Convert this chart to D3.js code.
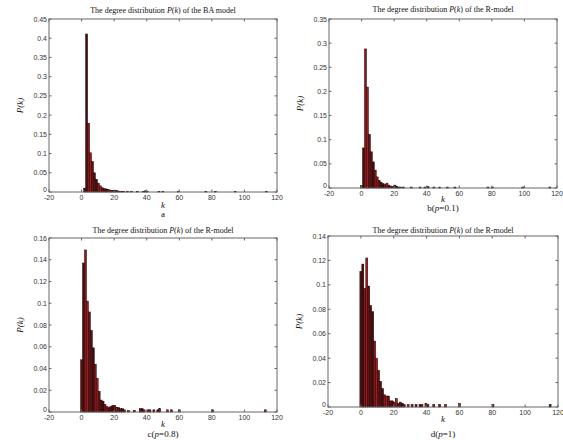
<!DOCTYPE html>
<html>
<head>
<meta charset="utf-8">
<script src="https://cdn.jsdelivr.net/npm/d3@7"></script>
<style>
  body { margin: 0; background: #fff; }
  .tick-label { font-family: "Liberation Sans", Arial, sans-serif; font-size: 7px; fill: #333; }
  .title { font-family: "Liberation Serif", "Times New Roman", serif; font-size: 8px; fill: #111; }
  .axis-title { font-family: "Liberation Serif", "Times New Roman", serif; font-size: 9px; fill: #111; font-style: italic; }
  .caption { font-family: "Liberation Serif", "Times New Roman", serif; font-size: 9px; fill: #111; }
</style>
</head>
<body>
<div id="chart"></div>
<script>
// ---- data ----
const binWidth = 1.2;
const xTicks = [-20, 0, 20, 40, 60, 80, 100, 120];

// a: BA model
const kA = [1.9, 3.1, 4.3, 5.5, 6.7, 7.9, 9.1, 10.3, 11.5, 12.7, 13.9, 15.1, 16.3, 17.5, 18.7, 19.9, 21.1, 22.3, 23.5, 24.7, 25.9, 28.3, 30.7, 34.3, 37.9, 39.1, 40.3, 47.5, 49.9, 59.5, 76.3, 82.3, 94.3, 113.5];
const pA = [0.010, 0.411, 0.179, 0.102, 0.079, 0.050, 0.033, 0.023, 0.016, 0.011, 0.009, 0.008, 0.007, 0.005, 0.004, 0.004, 0.004, 0.003, 0.002, 0.002, 0.002, 0.002, 0.002, 0.002, 0.002, 0.003, 0.002, 0.002, 0.002, 0.002, 0.002, 0.002, 0.002, 0.002];
const yTicksA = [0, 0.05, 0.1, 0.15, 0.2, 0.25, 0.3, 0.35, 0.4, 0.45];

// b: R-model p=0.1
const kB = [0, 1.2, 2.4, 3.6, 4.8, 6.0, 7.2, 8.4, 9.6, 10.8, 12.0, 13.2, 14.4, 15.6, 16.8, 18.0, 19.2, 20.4, 21.6, 22.8, 24.0, 25.6, 30.7, 35.9, 38.9, 40.8, 44.4, 48.0, 52.8, 57.3, 77.6, 80.4, 99.0, 115.6];
const pB = [0.005, 0.083, 0.288, 0.209, 0.111, 0.075, 0.054, 0.037, 0.023, 0.016, 0.012, 0.009, 0.007, 0.010, 0.006, 0.004, 0.003, 0.006, 0.004, 0.002, 0.002, 0.002, 0.002, 0.002, 0.002, 0.003, 0.002, 0.002, 0.002, 0.002, 0.002, 0.002, 0.002, 0.002];
const yTicksB = [0, 0.05, 0.1, 0.15, 0.2, 0.25, 0.3, 0.35];

// c: R-model p=0.8
const kC = [0, 1.2, 2.4, 3.6, 4.8, 6.0, 7.2, 8.4, 9.6, 10.8, 12.0, 13.2, 14.4, 15.6, 16.8, 18.0, 19.2, 20.4, 21.6, 22.8, 24.0, 25.2, 26.4, 28.8, 32.4, 36.0, 37.2, 38.4, 40.8, 42.0, 44.4, 46.8, 48.0, 52.8, 55.2, 60.0, 80.4, 112.8];
const pC = [0.048, 0.137, 0.149, 0.102, 0.092, 0.075, 0.059, 0.044, 0.031, 0.019, 0.011, 0.010, 0.007, 0.005, 0.004, 0.005, 0.006, 0.006, 0.004, 0.004, 0.003, 0.003, 0.002, 0.0015, 0.0015, 0.003, 0.003, 0.002, 0.002, 0.002, 0.002, 0.002, 0.003, 0.002, 0.002, 0.002, 0.002, 0.002];
const yTicksC = [0, 0.02, 0.04, 0.06, 0.08, 0.1, 0.12, 0.14, 0.16];

// d: R-model p=1
const kD = [0, 1.2, 2.4, 3.6, 4.8, 6.0, 7.2, 8.4, 9.6, 10.8, 12.0, 13.2, 14.4, 15.6, 16.8, 18.0, 19.2, 20.4, 21.6, 22.8, 24.0, 25.2, 26.4, 28.8, 31.2, 33.6, 36.0, 37.2, 39.6, 40.8, 44.4, 48.0, 51.6, 60.0, 80.4, 115.2];
const pD = [0.111, 0.117, 0.097, 0.122, 0.099, 0.083, 0.078, 0.054, 0.040, 0.030, 0.021, 0.015, 0.010, 0.009, 0.009, 0.005, 0.005, 0.004, 0.007, 0.003, 0.004, 0.003, 0.002, 0.002, 0.002, 0.002, 0.002, 0.002, 0.003, 0.002, 0.002, 0.002, 0.002, 0.003, 0.002, 0.002];
const yTicksD = [0, 0.02, 0.04, 0.06, 0.08, 0.1, 0.12, 0.14];

const titleModels = ['BA  model', 'R-model', 'R-model', 'R-model'];
const captionLetters = ['a', 'b', 'c', 'd'];
const captionParams = ['', '0.1', '0.8', '1'];

const W = 563, H = 440;

class DegreeHistogram {
    constructor(svg, _config) {
        this.svg = svg;
        this.config = _config;
        this.initVis();
    }

    initVis() {
        let vis = this;
        const c = vis.config;
        vis.width = c.right - c.left;
        vis.height = c.bottom - c.top;

        vis.xScale = d3.scaleLinear().domain([-20, 120]).range([0, vis.width]);
        vis.yScale = d3.scaleLinear().domain([0, d3.max(c.yTicks)]).range([vis.height, 0]);

        vis.chart = vis.svg.append('g')
            .attr('transform', `translate(${c.left},${c.top})`);

        vis.renderVis();
    }

    renderVis() {
        let vis = this;
        const c = vis.config;
        const palette = ['#5a1010', '#470b0b', '#8e1517', '#a9191c', '#661111'];

        // bars
        vis.chart.selectAll('.bar')
            .data(c.k.map((k, i) => ({ k: k, p: c.p[i], i: i })))
            .join('rect')
                .attr('class', 'bar')
                .attr('x', d => vis.xScale(d.k - binWidth / 2))
                .attr('width', d => vis.xScale(d.k + binWidth / 2) - vis.xScale(d.k - binWidth / 2))
                .attr('y', d => vis.yScale(d.p))
                .attr('height', d => vis.yScale(0) - vis.yScale(d.p))
                .attr('fill', d => palette[d.i % palette.length])
                .attr('stroke', '#1a0000')
                .attr('stroke-width', 0.5);

        // box
        vis.chart.append('rect')
            .attr('width', vis.width)
            .attr('height', vis.height)
            .attr('fill', 'none')
            .attr('stroke', '#666')
            .attr('stroke-width', 1);

        // inward ticks on all four sides (matlab style)
        const tl = 2.5;
        xTicks.forEach(t => {
            const x = vis.xScale(t);
            vis.chart.append('line').attr('x1', x).attr('x2', x).attr('y1', vis.height).attr('y2', vis.height - tl).attr('stroke', '#666');
            vis.chart.append('line').attr('x1', x).attr('x2', x).attr('y1', 0).attr('y2', tl).attr('stroke', '#666');
            vis.chart.append('text')
                .attr('class', 'tick-label')
                .attr('x', x)
                .attr('y', vis.height + 7.5)
                .attr('text-anchor', 'middle')
                .text(t);
        });
        c.yTicks.forEach(t => {
            const y = vis.yScale(t);
            vis.chart.append('line').attr('x1', 0).attr('x2', tl).attr('y1', y).attr('y2', y).attr('stroke', '#666');
            vis.chart.append('line').attr('x1', vis.width).attr('x2', vis.width - tl).attr('y1', y).attr('y2', y).attr('stroke', '#666');
            vis.chart.append('text')
                .attr('class', 'tick-label')
                .attr('x', -2)
                .attr('y', t === 0 ? y : y + 2.5)
                .attr('text-anchor', 'end')
                .text(+t.toFixed(2));
        });

        // title
        const title = vis.chart.append('text')
            .attr('class', 'title')
            .attr('x', vis.width / 2)
            .attr('y', c.titleY)
            .attr('text-anchor', 'middle');
        title.append('tspan').text('The degree distribution ');
        title.append('tspan').style('font-style', 'italic').text('P');
        title.append('tspan').text('(');
        title.append('tspan').style('font-style', 'italic').text('k');
        title.append('tspan').text(') of the ' + c.model);

        // y label
        vis.chart.append('text')
            .attr('class', 'axis-title')
            .attr('transform', `translate(${c.yLabelX},${vis.height / 2}) rotate(-90)`)
            .attr('text-anchor', 'middle')
            .text('P(k)');

        // x label
        vis.chart.append('text')
            .attr('class', 'axis-title')
            .attr('x', vis.width / 2)
            .attr('y', vis.height + c.kLabelDy)
            .attr('text-anchor', 'middle')
            .text('k');

        // caption
        const cap = vis.chart.append('text')
            .attr('class', 'caption')
            .attr('x', vis.width / 2)
            .attr('y', vis.height + c.captionDy)
            .attr('text-anchor', 'middle');
        cap.append('tspan').text(c.letter);
        if (c.param) {
            cap.append('tspan').text('(');
            cap.append('tspan').style('font-style', 'italic').text('p');
            cap.append('tspan').text('=' + c.param + ')');
        }
    }
}

const svg = d3.select('#chart').append('svg')
    .attr('width', W)
    .attr('height', H)
    .attr('style', 'background-color:#fff');

const panels = [
    { left: 49, top: 19, right: 277, bottom: 192, k: kA, p: pA, yTicks: yTicksA, titleY: -6, kLabelDy: 16, captionDy: 25 },
    { left: 329, top: 19, right: 557, bottom: 188, k: kB, p: pB, yTicks: yTicksB, titleY: -7, kLabelDy: 14, captionDy: 23 },
    { left: 49, top: 238, right: 277, bottom: 412, k: kC, p: pC, yTicks: yTicksC, titleY: -5, kLabelDy: 15, captionDy: 25 },
    { left: 328, top: 236, right: 558, bottom: 407, k: kD, p: pD, yTicks: yTicksD, titleY: -3, kLabelDy: 15, captionDy: 30 }
];

panels.forEach((cfg, i) => {
    cfg.model = titleModels[i];
    cfg.letter = captionLetters[i];
    cfg.param = captionParams[i];
    cfg.yLabelX = -26;
    new DegreeHistogram(svg, cfg);
});
</script>
</body>
</html>
